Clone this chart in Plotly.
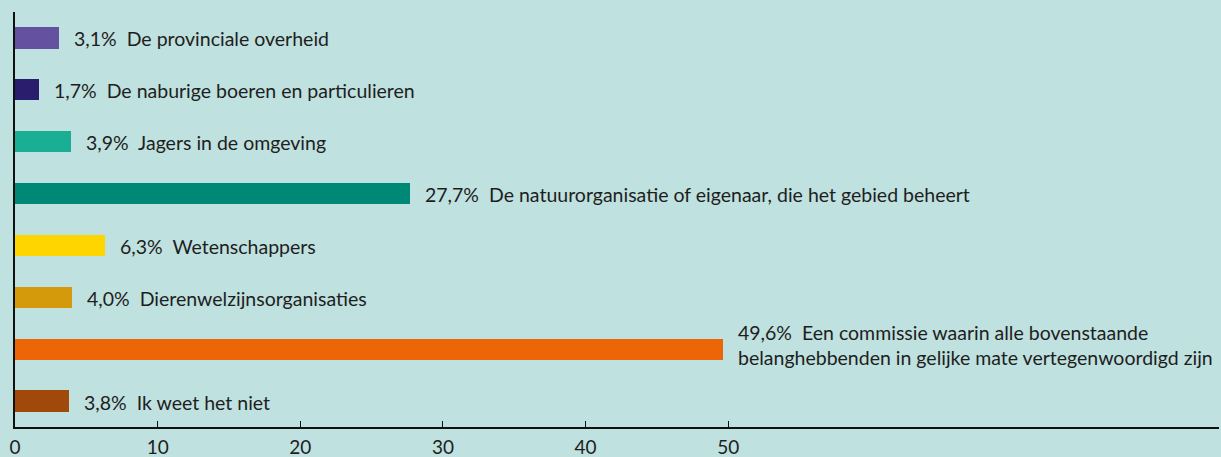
import plotly.graph_objects as go

categories = [
    "De provinciale overheid",
    "De naburige boeren en particulieren",
    "Jagers in de omgeving",
    "De natuurorganisatie of eigenaar, die het gebied beheert",
    "Wetenschappers",
    "Dierenwelzijnsorganisaties",
    "Een commissie waarin alle bovenstaande<br>belanghebbenden in gelijke mate vertegenwoordigd zijn",
    "Ik weet het niet",
]
values = [3.1, 1.7, 3.9, 27.7, 6.3, 4.0, 49.6, 3.8]
colors = ["#6451A0", "#2B1D6E", "#1AAF95", "#008877", "#FFD500", "#D49A0B", "#EC6608", "#A0490B"]
tick_vals = [0, 10, 20, 30, 40, 50]

BG = "#BFE1DF"
FONT = "Lato, Open Sans, sans-serif"
ypos = list(range(len(categories)))

fig = go.Figure()
fig.add_trace(go.Bar(
    x=values, y=ypos, orientation="h",
    marker=dict(color=colors, line=dict(width=0)),
    width=0.41, hoverinfo="skip",
))

for v, c, yp in zip(values, categories, ypos):
    label = f"{v:.1f}".replace(".", ",") + "%\u00a0 " + c
    multi = "<br>" in c
    fig.add_annotation(
        x=v, y=yp, xref="x", yref="y", text=label, showarrow=False,
        xanchor="left", yanchor="middle", align="left",
        xshift=13, yshift=4 if multi else -1,
        font=dict(family=FONT, size=19.5, color="#1E1E1E"),
    )

fig.update_layout(
    width=1221, height=457,
    margin=dict(l=15, r=2, t=12, b=30, autoexpand=False),
    paper_bgcolor=BG, plot_bgcolor=BG,
    showlegend=False, bargap=0,
    font=dict(family=FONT, size=19.5, color="#1E1E1E"),
)
fig.update_xaxes(
    range=[0, 84.4], tickvals=tick_vals, ticktext=[str(t) for t in tick_vals],
    showgrid=False, zeroline=False, showline=True, linecolor="#111111", linewidth=1.5,
    ticks="inside", ticklen=6, tickcolor="#111111", tickwidth=1,
    tickfont=dict(family=FONT, size=19, color="#1E1E1E"), fixedrange=True,
    automargin=False, ticklabelstandoff=2,
)
fig.update_yaxes(
    range=[7.5, -0.5], showticklabels=False, showgrid=False, zeroline=False,
    showline=True, linecolor="#111111", linewidth=1.5, ticks="", fixedrange=True,
    automargin=False,
)

fig.write_html(
    "out.html",
    config={"displayModeBar": False},
    post_script="document.body.style.margin='0';document.body.style.overflow='hidden';",
)
